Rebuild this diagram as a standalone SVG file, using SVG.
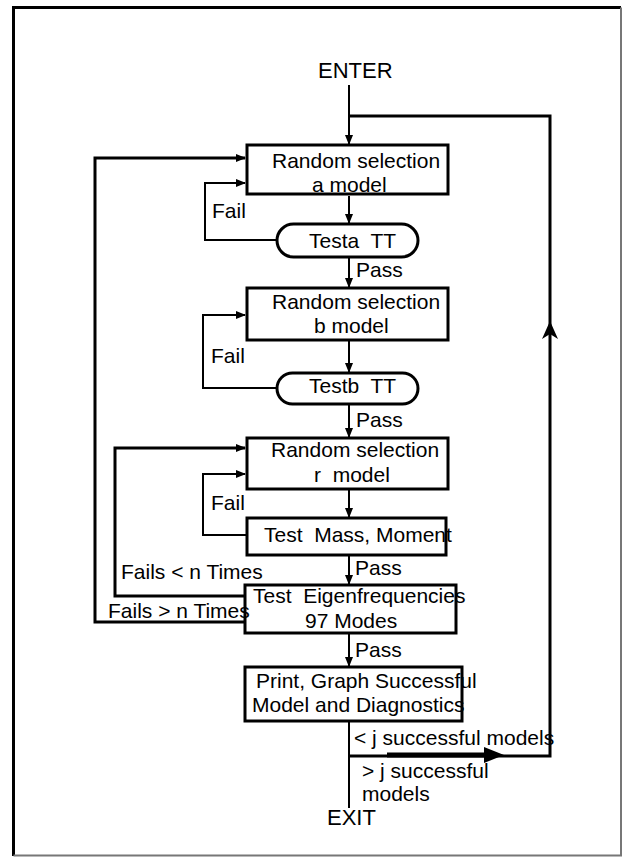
<svg xmlns="http://www.w3.org/2000/svg" width="623" height="857" viewBox="0 0 623 857">
<style>
text{font-family:"Liberation Sans",Arial,sans-serif;font-size:21px;fill:#000;white-space:pre}
.big{font-size:22px}
.box{fill:#fff;stroke:#000;stroke-width:3}
.c{fill:none;stroke:#000;stroke-width:2}
.thick{fill:none;stroke:#000;stroke-width:3}
</style>
<defs>
<marker id="ah" markerUnits="userSpaceOnUse" markerWidth="10" markerHeight="8" refX="9" refY="4" orient="auto">
<path d="M0,0 L10,4 L0,8 z" fill="#000"/>
</marker>
</defs>
<rect width="623" height="857" fill="#fff"/>
<path d="M13.5,856 V7.5 H621" fill="none" stroke="#000" stroke-width="3"/>
<path d="M621,7.5 V855.5 H13.5" fill="none" stroke="#777" stroke-width="2"/>

<g id="connectors">
<path class="c" d="M349,85 V144" marker-end="url(#ah)"/>
<path class="c" d="M349,196 V223" marker-end="url(#ah)"/>
<path class="c" d="M349,257 V287" marker-end="url(#ah)"/>
<path class="c" d="M349,340 V372" marker-end="url(#ah)"/>
<path class="c" d="M349,404 V437" marker-end="url(#ah)"/>
<path class="c" d="M349,489 V517" marker-end="url(#ah)"/>
<path class="c" d="M349,555 V584" marker-end="url(#ah)"/>
<path class="c" d="M349,633 V666" marker-end="url(#ah)"/>
<path class="c" d="M349,721 V808"/>
<path class="c" d="M277,240 H205 V183 H245" marker-end="url(#ah)"/>
<path class="c" d="M277,388 H203 V315 H245" marker-end="url(#ah)"/>
<path class="c" d="M246,535 H203 V474 H245" marker-end="url(#ah)"/>
<path class="thick" d="M244,596 H115 V448 H245" marker-end="url(#ah)"/>
<path class="thick" d="M244,622 H95 V158 H245" marker-end="url(#ah)"/>
<path class="thick" d="M349,756 H550 V116 H349"/>
<path d="M550,321 L558,339 L550,334 L542,339 z" fill="#000"/>
<path d="M387,755 H488" fill="none" stroke="#000" stroke-width="5"/>
<path d="M484,747 L504,755 L484,763 z" fill="#000"/>
</g>

<g id="enter"><text class="big" x="318" y="78">ENTER</text></g>

<g id="box1">
<rect class="box" x="247" y="145" width="201" height="49"/>
<text x="272" y="168">Random selection</text>
<text x="312" y="192">a model</text>
</g>
<g id="testa">
<rect class="box" x="277" y="224" width="141" height="33" rx="16.5"/>
<text x="309" y="248">Testa  TT</text>
</g>
<g id="box2">
<rect class="box" x="247" y="288" width="201" height="52"/>
<text x="272" y="309">Random selection</text>
<text x="314" y="333">b model</text>
</g>
<g id="testb">
<rect class="box" x="277" y="373" width="141" height="31" rx="15.5"/>
<text x="309" y="393">Testb  TT</text>
</g>
<g id="box3">
<rect class="box" x="247" y="438" width="201" height="51"/>
<text x="271" y="457">Random selection</text>
<text x="314" y="482">r  model</text>
</g>
<g id="testmass">
<rect class="box" x="247" y="518" width="199" height="37"/>
<text x="264" y="542">Test  Mass, Moment</text>
</g>
<g id="testeigen">
<rect class="box" x="245" y="585" width="211" height="48"/>
<text x="253" y="603">Test  Eigenfrequencies</text>
<text x="305" y="628">97 Modes</text>
</g>
<g id="print">
<rect class="box" x="245" y="667" width="217" height="54"/>
<text x="256" y="688">Print, Graph Successful</text>
<text x="252" y="712">Model and Diagnostics</text>
</g>
<g id="exit"><text class="big" x="327" y="825">EXIT</text></g>

<g id="labels">
<text x="212" y="218">Fail</text>
<text x="356" y="277">Pass</text>
<text x="211" y="363">Fail</text>
<text x="356" y="427">Pass</text>
<text x="211" y="510">Fail</text>
<text x="355" y="575">Pass</text>
<text x="121" y="579">Fails &lt; n Times</text>
<text x="108" y="618">Fails &gt; n Times</text>
<text x="355" y="657">Pass</text>
<text x="354" y="745">&lt; j successful models</text>
<text x="362" y="778">&gt; j successful</text>
<text x="362" y="801">models</text>
</g>
</svg>
